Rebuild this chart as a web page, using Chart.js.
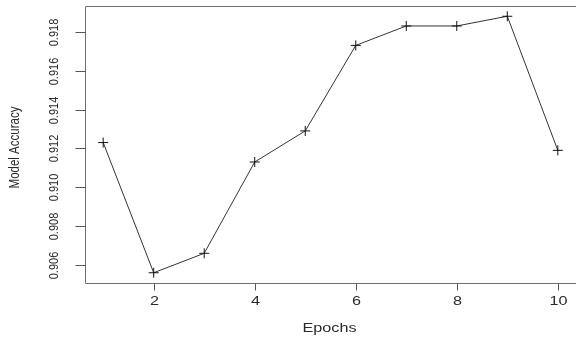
<!DOCTYPE html>
<html>
<head>
<meta charset="utf-8">
<script src="https://cdn.jsdelivr.net/npm/chart.js@4.4.1/dist/chart.umd.min.js"></script>
<style>
  html, body { margin: 0; padding: 0; background: #fff; overflow: hidden; }
  #wrap { width: 576px; height: 341px; }
</style>
</head>
<body>
<div id="wrap"><canvas id="c" width="576" height="341"></canvas></div>
<script>
// Accuracy per training epoch
const epochs = [1, 2, 3, 4, 5, 6, 7, 8, 9, 10];
const accuracy = [0.9123, 0.9056, 0.9066, 0.9113, 0.9129, 0.9173, 0.9183, 0.9183, 0.9188, 0.9119];
const xTicks = [2, 4, 6, 8, 10];
const yTicks = [0.906, 0.908, 0.910, 0.912, 0.914, 0.916, 0.918];
const xTitle = 'Epochs';
const yTitle = 'Model Accuracy';

// axis limits padded 4% beyond the data range
const xPad = (Math.max(...epochs) - Math.min(...epochs)) * 0.04;
const yPad = (Math.max(...accuracy) - Math.min(...accuracy)) * 0.04;

const FAMILY = '"Liberation Sans", Arial, sans-serif';
const TEXT = '#2a2a2a';

function stretchedText(ctx, txt, x, y, rot, sx) {
  ctx.save();
  ctx.translate(x, y);
  ctx.scale(sx, 1);
  if (rot) ctx.rotate(rot);
  ctx.fillText(txt, 0, 0);
  ctx.restore();
}

// frame, tick marks and all axis text
const axesPlugin = {
  id: 'baseAxes',
  afterDraw(chart) {
    const { ctx, chartArea: a, scales: { x, y } } = chart;
    const L = Math.round(a.left) + 0.5, T = Math.round(a.top) + 0.5, B = Math.round(a.bottom) + 0.5;
    ctx.save();
    ctx.strokeStyle = '#6e6e6e';
    ctx.lineWidth = 1;
    ctx.beginPath();
    ctx.moveTo(a.right + 2, T);
    ctx.lineTo(L, T);
    ctx.lineTo(L, B);
    ctx.lineTo(a.right + 2, B);
    ctx.stroke();

    ctx.fillStyle = TEXT;
    ctx.strokeStyle = '#555';
    ctx.textAlign = 'center';
    ctx.textBaseline = 'middle';

    ctx.font = '12px ' + FAMILY;
    xTicks.forEach(v => {
      const px = Math.round(x.getPixelForValue(v)) + 0.5;
      ctx.beginPath();
      ctx.moveTo(px, B);
      ctx.lineTo(px, B + 7);
      ctx.stroke();
      stretchedText(ctx, String(v), px, B + 18, 0, 1.35);
    });

    ctx.font = '11px ' + FAMILY;
    yTicks.forEach(v => {
      const py = Math.round(y.getPixelForValue(v)) + 0.5;
      ctx.beginPath();
      ctx.moveTo(L, py);
      ctx.lineTo(L - 10, py);
      ctx.stroke();
      stretchedText(ctx, v.toFixed(3), L - 31, py, -Math.PI / 2, 1.2);
    });

    ctx.font = '12px ' + FAMILY;
    stretchedText(ctx, xTitle, (a.left + a.right) / 2 - 1, B + 45, 0, 1.35);
    ctx.font = '11.5px ' + FAMILY;
    stretchedText(ctx, yTitle, 15, (a.top + a.bottom) / 2 + 3, -Math.PI / 2, 1.2);
    ctx.restore();
  }
};

new Chart(document.getElementById('c'), {
  type: 'scatter',
  data: {
    datasets: [{
      data: epochs.map((e, i) => ({ x: e, y: accuracy[i] })),
      showLine: true,
      tension: 0,
      borderColor: '#333',
      borderWidth: 1,
      pointStyle: 'cross',
      pointRadius: 5,
      pointBorderColor: '#111',
      pointBorderWidth: 1,
      pointHoverRadius: 5
    }]
  },
  options: {
    responsive: false,
    animation: false,
    events: [],
    layout: { autoPadding: false, padding: { left: 85, top: 6, right: -1.5, bottom: 58 } },
    plugins: { legend: { display: false }, tooltip: { enabled: false } },
    scales: {
      x: {
        type: 'linear', display: false,
        min: Math.min(...epochs) - xPad,
        max: Math.max(...epochs) + xPad
      },
      y: {
        type: 'linear', display: false,
        min: Math.min(...accuracy) - yPad,
        max: Math.max(...accuracy) + yPad
      }
    }
  },
  plugins: [axesPlugin]
});
</script>
</body>
</html>
